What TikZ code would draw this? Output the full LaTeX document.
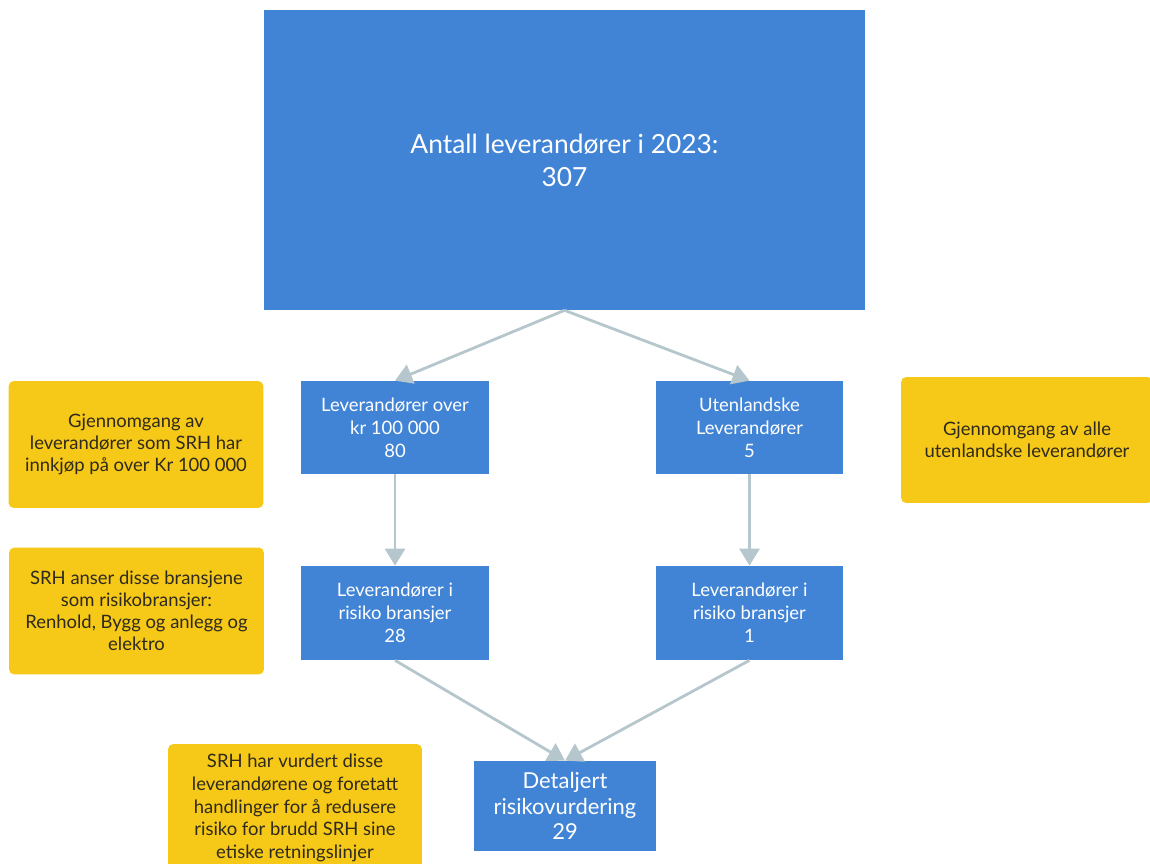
\documentclass[tikz,border=0pt]{standalone}
\usepackage{fontspec}
\setmainfont{Lato}
\usetikzlibrary{arrows.meta, positioning}
\definecolor{boxblue}{HTML}{4184D6}
\definecolor{noteyellow}{HTML}{F6C817}
\definecolor{linkgray}{HTML}{B5C6CC}
\definecolor{notetext}{HTML}{2E2A1E}

\begin{document}
\begin{tikzpicture}[
    x=0.02cm, y=-0.02cm,
    box/.style={fill=boxblue, text=white, align=center, inner sep=2pt, font=\fontsize{10.5}{13}\selectfont},
    note/.style={fill=noteyellow, text=notetext, align=center, rounded corners=3pt, inner sep=2pt, minimum width=5.1cm, minimum height=2.54cm, font=\fontsize{10.5}{12.6}\selectfont},
    link/.style={draw=linkgray, line width=1.6pt, -{Triangle[length=3.4mm, width=4mm]}}
]
\useasboundingbox (0,0) rectangle (1150,863);
\clip (0,0) rectangle (1150,863);

% supplier funnel
\node[box, minimum width=12.02cm, minimum height=6cm, font=\fontsize{15}{18.7}\selectfont] (total) at (564.5,160) {Antall leverandører i 2023:\\307};
\node[box, minimum width=3.76cm, minimum height=1.86cm] (over) at (395,427.5) {Leverandører over\\kr 100 000\\80};
\node[box, minimum width=3.76cm, minimum height=1.86cm] (foreign) at (749.5,427.5) {Utenlandske\\Leverandører\\5};
\node[box, minimum width=3.76cm, minimum height=1.88cm] (riskL) at (395,613) {Leverandører i\\risiko bransjer\\28};
\node[box, minimum width=3.76cm, minimum height=1.88cm] (riskR) at (749.5,613) {Leverandører i\\risiko bransjer\\1};
\node[box, minimum width=3.64cm, minimum height=1.8cm, font=\fontsize{12.5}{14.6}\selectfont] (detail) at (565,806) {Detaljert\\risikovurdering\\29};

% notes
\node[note] (noteOver) at (136,444.5) {Gjennomgang av\\leverandører som SRH har\\innkjøp på over Kr 100 000};
\node[note] (noteRisk) at (136.5,611) {SRH anser disse bransjene\\som risikobransjer:\\Renhold, Bygg og anlegg og\\elektro};
\node[note, minimum width=5.04cm, minimum height=2.52cm] (noteForeign) at (1027,440) {Gjennomgang av alle\\utenlandske leverandører};
\node[note, minimum width=5.08cm, minimum height=2.56cm, font=\fontsize{10.5}{13}\selectfont] (noteDetail) at (295,808) {SRH har vurdert disse\\leverandørene og foretatt\\handlinger for å redusere\\risiko for brudd SRH sine\\etiske retningslinjer};

\draw[link] (total.south) -- (over.north);
\draw[link] (total.south) -- (foreign.north);
\draw[link] (over) -- (riskL);
\draw[link] (foreign) -- (riskR);
\draw[link] (riskL.south) -- (detail.north);
\draw[link] (riskR.south) -- (detail.north);
\end{tikzpicture}
\end{document}
